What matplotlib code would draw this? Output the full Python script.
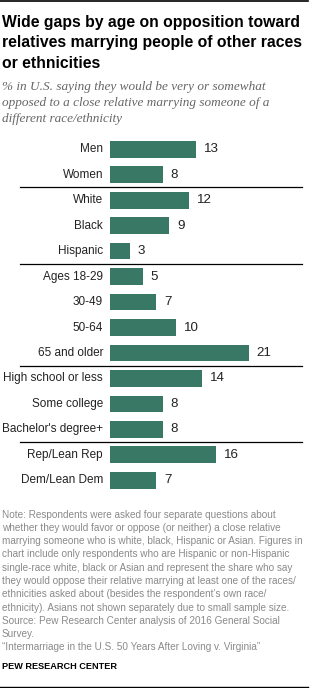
import matplotlib
matplotlib.use("Agg")
import matplotlib.pyplot as plt
import matplotlib.transforms as mtransforms
from matplotlib.lines import Line2D

categories = ["Men", "Women", "White", "Black", "Hispanic", "Ages 18-29", "30-49",
              "50-64", "65 and older", "High school or less", "Some college",
              "Bachelor's degree+", "Rep/Lean Rep", "Dem/Lean Dem"]
values = [13, 8, 12, 9, 3, 5, 7, 10, 21, 14, 8, 8, 16, 7]
separators_after = [1, 4, 8, 11]

title_lines = ["Wide gaps by age on opposition toward",
               "relatives marrying people of other races",
               "or ethnicities"]
subtitle_lines = ["% in U.S. saying they would be very or somewhat",
                  "opposed to a close relative marrying someone of a",
                  "different race/ethnicity"]
note_lines = ["Note: Respondents were asked four separate questions about",
              "whether they would favor or oppose (or neither) a close relative",
              "marrying someone who is white, black, Hispanic or Asian. Figures in",
              "chart include only respondents who are Hispanic or non-Hispanic",
              "single-race white, black or Asian and represent the share who say",
              "they would oppose their relative marrying at least one of the races/",
              "ethnicities asked about (besides the respondent\u2019s own race/",
              "ethnicity). Asians not shown separately due to small sample size.",
              "Source: Pew Research Center analysis of 2016 General Social",
              "Survey.",
              "\u201cIntermarriage in the U.S. 50 Years After Loving v. Virginia\u201d"]
org = "PEW RESEARCH CENTER"

W, H = 311, 688
fig = plt.figure(figsize=(W / 100, H / 100), dpi=100)
fig.patch.set_facecolor("white")
renderer = fig.canvas.get_renderer()

def fx(px):
    return px / W

def fy(py):
    return 1 - py / H

def fit(texts, ref_index, target_px):
    w = texts[ref_index].get_window_extent(renderer).width
    size = texts[0].get_fontsize() * target_px / w
    for t in texts:
        t.set_fontsize(size)

BAR = "#3a7866"
SANS = ["Liberation Sans", "DejaVu Sans"]

# axes placement
step = 25.46
first_c = 149.3
top_px = first_c - step / 2
bot_px = top_px + step * len(categories)
x0_px, x1_px = 110, 302
ppu = 6.6
ax = fig.add_axes([fx(x0_px), fy(bot_px), fx(x1_px - x0_px), (bot_px - top_px) / H])
ax.set_xlim(0, (x1_px - x0_px) / ppu)
ax.set_ylim(len(categories) - 0.5, -0.5)
ax.axis("off")

ys = list(range(len(categories)))
ax.barh(ys, values, height=0.655, color=BAR, left=0)
cat_texts = []
for y, c, v in zip(ys, categories, values):
    cat_texts.append(ax.text(-1.05, y, c, ha="right", va="center", fontsize=9,
                             family=SANS, color="#222222"))
    ax.text(v + 1.2, y, str(v), ha="left", va="center", fontsize=9.6, family=SANS,
            color="#222222")
fit(cat_texts, 9, 100)

tr = mtransforms.blended_transform_factory(fig.transFigure, ax.transData)
for s in separators_after:
    ax.add_line(Line2D([fx(20.5), fx(302)], [s + 0.5, s + 0.5], transform=tr,
                       color="black", lw=0.9, clip_on=False))

# top and bottom rules
fig.add_artist(Line2D([0, fx(308)], [fy(1), fy(1)], color="black", lw=1.2))
fig.add_artist(Line2D([0, fx(308)], [fy(686.5), fy(686.5)], color="black", lw=1.0))

# title
tts = []
for i, t in enumerate(title_lines):
    tts.append(fig.text(fx(2), fy(27.5 + 20 * i), t, ha="left", va="baseline", fontsize=12,
                        fontweight="bold", family=SANS, color="black"))
fit(tts, 1, 299)

# subtitle
sts = []
for i, t in enumerate(subtitle_lines):
    sts.append(fig.text(fx(2), fy(90 + 16 * i), t, ha="left", va="baseline", fontsize=9,
                        style="italic", family=["Liberation Serif", "DejaVu Serif"],
                        color="#666666"))
fit(sts, 1, 268)

# note
nts = []
for i, t in enumerate(note_lines):
    nts.append(fig.text(fx(2), fy(517.5 + 13.3 * i), t, ha="left", va="baseline", fontsize=8,
                        family=SANS, color="#8a8a8a"))
fit(nts, 2, 304)

ot = fig.text(fx(2), fy(669), org, ha="left", va="baseline", fontsize=8, fontweight="bold",
              family=SANS, color="black")
fit([ot], 0, 115)

fig.savefig("out.png", dpi=100, facecolor="white")
